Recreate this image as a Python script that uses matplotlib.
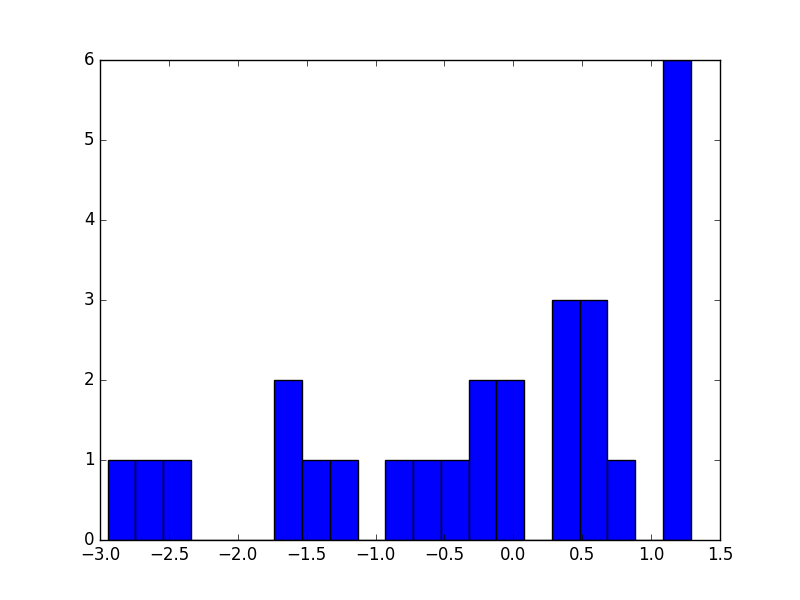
import numpy as np
import matplotlib
matplotlib.use("Agg")
import matplotlib.pyplot as plt

plt.style.use("classic")

bin_left = -2.944
bin_right = 1.288
n_bins = 21
counts = [1, 1, 1, 0, 0, 0, 2, 1, 1, 0, 1, 1, 1, 2, 2, 0, 3, 3, 1, 0, 6]

edges = np.linspace(bin_left, bin_right, n_bins + 1)

fig = plt.figure(figsize=(8, 6), dpi=100)
ax = fig.add_subplot(111)
ax.bar(edges[:-1], counts, width=np.diff(edges), align="edge",
       color="#0000ff", edgecolor="black", linewidth=1.0)
ax.set_xlim(-3.0, 1.5)
ax.set_ylim(0, 6)
fig.savefig("out.png", dpi=100)
